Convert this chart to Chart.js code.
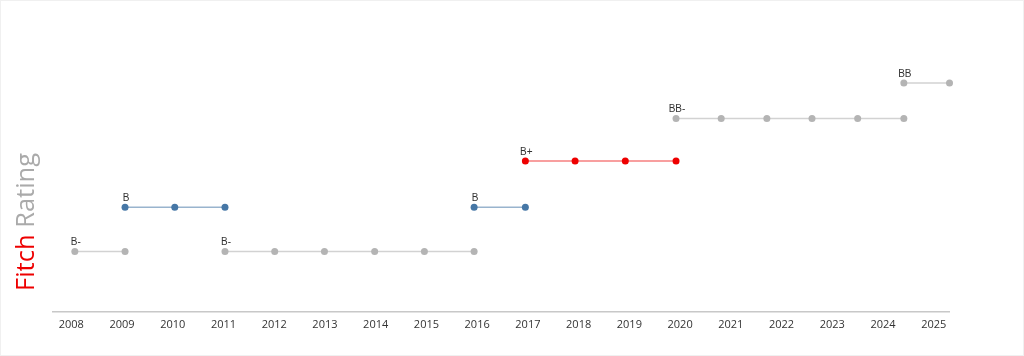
<!DOCTYPE html>
<html>
<head>
<meta charset="utf-8">
<script src="https://cdn.jsdelivr.net/npm/chart.js@4/dist/chart.umd.min.js"></script>
<style>
  html, body { margin: 0; padding: 0; background: #fff; }
  #wrap { position: relative; width: 1024px; height: 356px; box-sizing: border-box; border: 1px solid #f0f0f0; overflow: hidden; }
  canvas { position: absolute; left: -1px; top: -1px; }
</style>
</head>
<body>
<div id="wrap"><canvas id="c" width="1024" height="356"></canvas></div>
<script>
// Tick labels (years on the x axis)
const YEARS = [2008, 2009, 2010, 2011, 2012, 2013, 2014, 2015, 2016, 2017, 2018, 2019, 2020, 2021, 2022, 2023, 2024, 2025];

// Rating names and their vertical level
const RATINGS = ['B-', 'B', 'B+', 'BB-', 'BB'];
const RATING_LEVEL = [1, 2, 3.04, 4, 4.8];

// Rating segments: which rating, and the dates (fractional years) of each point
const SEG_RATING = ['B-', 'B', 'B-', 'B', 'B+', 'BB-', 'BB'];
const SEG_COLOR = ['grey', 'blue', 'grey', 'blue', 'red', 'grey', 'grey'];
const SEG1_DATES = [2008.07, 2009.06];
const SEG2_DATES = [2009.06, 2010.04, 2011.03];
const SEG3_DATES = [2011.03, 2012.01, 2012.99, 2013.98, 2014.96, 2015.94];
const SEG4_DATES = [2015.94, 2016.95];
const SEG5_DATES = [2016.95, 2017.93, 2018.92, 2019.92];
const SEG6_DATES = [2019.92, 2020.81, 2021.71, 2022.60, 2023.50, 2024.41];
const SEG7_DATES = [2024.41, 2025.31];
const SEG_DATES = [SEG1_DATES, SEG2_DATES, SEG3_DATES, SEG4_DATES, SEG5_DATES, SEG6_DATES, SEG7_DATES];

const PALETTE = {
  grey: { point: '#b4b4b4', line: '#d2d2d2' },
  blue: { point: '#4677a6', line: 'rgba(70,119,166,0.55)' },
  red:  { point: '#ee0000', line: 'rgba(238,0,0,0.5)' }
};

const datasets = SEG_DATES.map((dates, i) => {
  const lvl = RATING_LEVEL[RATINGS.indexOf(SEG_RATING[i])];
  const col = PALETTE[SEG_COLOR[i]];
  return {
    label: SEG_RATING[i],
    data: dates.map(d => ({ x: d, y: lvl })),
    borderColor: col.line,
    backgroundColor: col.point,
    pointBackgroundColor: col.point,
    pointBorderColor: col.point,
    pointRadius: 3.5,
    pointBorderWidth: 0,
    borderWidth: 1.5,
    showLine: true,
    clip: false,
    tension: 0
  };
});

const labelPlugin = {
  id: 'segLabels',
  afterDatasetsDraw(chart) {
    const ctx = chart.ctx;
    ctx.save();
    ctx.font = '10px "Liberation Sans", Arial, sans-serif';
    ctx.fillStyle = '#333';
    ctx.textAlign = 'center';
    ctx.textBaseline = 'alphabetic';
    chart.data.datasets.forEach((ds, i) => {
      const p = chart.getDatasetMeta(i).data[0];
      ctx.fillText(ds.label, p.x + 1, p.y - 6);
    });
    ctx.restore();
  }
};

const titlePlugin = {
  id: 'yTitle',
  afterDraw(chart) {
    const ctx = chart.ctx;
    ctx.save();
    ctx.translate(34, 291);
    ctx.rotate(-Math.PI / 2);
    ctx.font = '25.5px "Open Sans", sans-serif';
    ctx.textAlign = 'left';
    ctx.textBaseline = 'alphabetic';
    ctx.fillStyle = '#ee0000';
    ctx.fillText('Fitch', 0, 0);
    const w = ctx.measureText('Fitch ').width;
    ctx.fillStyle = '#aaaaaa';
    ctx.fillText('Rating', w, 0);
    ctx.restore();
  }
};

new Chart(document.getElementById('c'), {
  type: 'scatter',
  data: { datasets },
  options: {
    responsive: false,
    animation: false,
    layout: { padding: { left: 53, right: 75, top: 12, bottom: 19 } },
    plugins: { legend: { display: false }, tooltip: { enabled: false } },
    scales: {
      x: {
        type: 'linear',
        min: 2007.64,
        max: 2025.30,
        afterBuildTicks(scale) { scale.ticks = YEARS.map(v => ({ value: v })); },
        grid: { display: true, color: 'rgba(0,0,0,0)', drawTicks: false },
        border: { display: true, color: '#c8c8c8', width: 1.5 },
        ticks: {
          padding: 6,
          color: '#333',
          font: { family: '"Open Sans", sans-serif', size: 11 },
          maxRotation: 0,
          autoSkip: false,
          callback: v => String(v)
        }
      },
      y: {
        display: false,
        min: -0.36,
        max: 6.4
      }
    }
  },
  plugins: [labelPlugin, titlePlugin]
});
</script>
</body>
</html>
